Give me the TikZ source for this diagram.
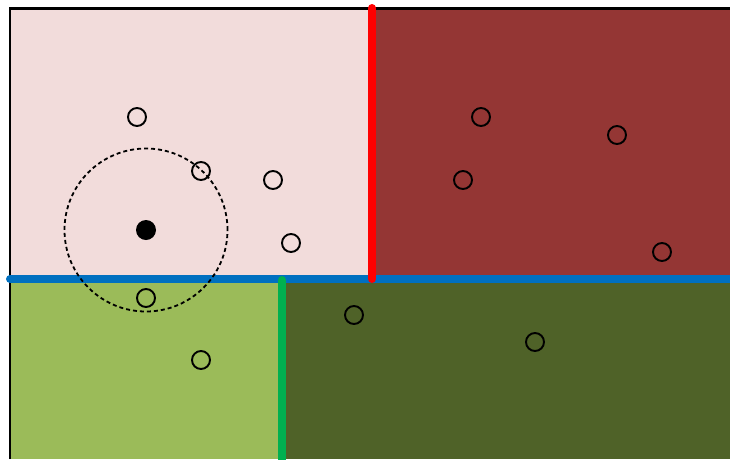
\documentclass[tikz,border=0pt]{standalone}
\definecolor{pinkbg}{HTML}{F2DCDB}
\definecolor{redbg}{HTML}{943634}
\definecolor{lgreen}{HTML}{9BBB59}
\definecolor{dgreen}{HTML}{4F6228}
\definecolor{bluel}{HTML}{0070C0}
\definecolor{greenl}{HTML}{00B050}
\begin{document}
\begin{tikzpicture}[x=1pt,y=-1pt,
  pt/.style={circle,draw=black,line width=1.9pt,minimum size=18pt,inner sep=0pt},
  divider/.style={line width=8pt,line cap=round}]
\useasboundingbox (0,0) rectangle (730,459);
\fill[pinkbg] (10,8) rectangle (372,279);
\fill[redbg] (372,8) rectangle (730,279);
\fill[lgreen] (10,279) rectangle (282,459);
\fill[dgreen] (282,279) rectangle (730,459);
\draw[line width=2.2pt] (10,459) -- (10,8.5) -- (730,8.5);
\coordinate (bl) at (10,279);
\coordinate (br) at (730,279);
\coordinate (rt) at (372,8);
\coordinate (rb) at (372,279);
\coordinate (gt) at (282,280);
\coordinate (gb) at (282,462);
\draw[divider,bluel] (bl) -- (br);
\draw[divider,red] (rt) -- (rb);
\draw[divider,greenl] (gt) -- (gb);
\node[circle,fill=black,minimum size=20pt,inner sep=0pt] (q) at (146,230) {};
\node[circle,draw=black,dash pattern=on 4pt off 3pt,line width=1.8pt,minimum size=163pt,inner sep=0pt] (r) at (q) {};
\foreach \n/\x/\y in {p1/137/117,p2/201/171,p3/273/180,p4/291/243,p5/146/298,p6/201/360,p7/354/315,p8/535/342,p9/481/117,p10/617/135,p11/463/180,p12/662/252}
  \node[pt] (\n) at (\x,\y) {};
\end{tikzpicture}
\end{document}
